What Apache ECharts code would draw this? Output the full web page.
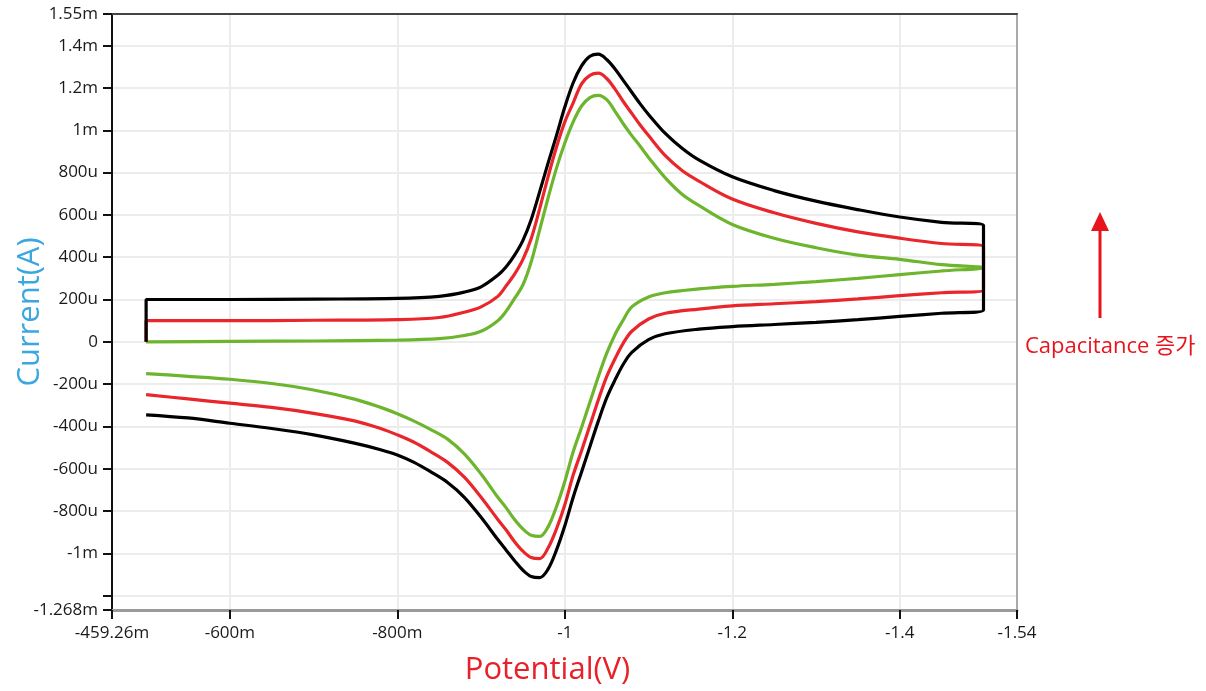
<!DOCTYPE html>
<html><head><meta charset="utf-8">
<script src="https://cdn.jsdelivr.net/npm/echarts@6/dist/echarts.min.js"></script>
<style>html,body{margin:0;padding:0;background:#fff}#chart{width:1206px;height:691px}</style>
</head><body><div id="chart"></div>
<script>
// Potential (V) grids for forward (toward -1.5 V) and reverse scans
const forwardPotential = [-0.50, -0.50, -0.60, -0.70, -0.80, -0.85, -0.88, -0.90, -0.92, -0.93, -0.94, -0.95, -0.96, -0.97, -0.98, -0.99, -1.00, -1.01, -1.02, -1.03, -1.04, -1.05, -1.06, -1.07, -1.08, -1.09, -1.10, -1.12, -1.14, -1.16, -1.20, -1.25, -1.30, -1.35, -1.40, -1.45, -1.50];
const reversePotential = [-1.50, -1.45, -1.40, -1.35, -1.30, -1.25, -1.20, -1.16, -1.12, -1.10, -1.08, -1.07, -1.06, -1.05, -1.04, -1.03, -1.02, -1.01, -1.00, -0.99, -0.98, -0.97, -0.96, -0.95, -0.94, -0.93, -0.92, -0.90, -0.88, -0.86, -0.84, -0.82, -0.80, -0.78, -0.75, -0.70, -0.65, -0.60, -0.55, -0.50];

// Current (mA)
const greenForward = [0, 0, 0.002, 0.004, 0.008, 0.015, 0.03, 0.05, 0.10, 0.145, 0.205, 0.27, 0.38, 0.53, 0.68, 0.82, 0.94, 1.04, 1.115, 1.155, 1.165, 1.145, 1.09, 1.03, 0.975, 0.925, 0.872, 0.775, 0.698, 0.645, 0.555, 0.49, 0.445, 0.41, 0.39, 0.365, 0.35];
const greenReverse = [0.35, 0.335, 0.318, 0.30, 0.285, 0.272, 0.262, 0.25, 0.232, 0.212, 0.165, 0.105, 0.035, -0.055, -0.165, -0.285, -0.405, -0.52, -0.66, -0.78, -0.875, -0.92, -0.915, -0.885, -0.84, -0.785, -0.735, -0.625, -0.53, -0.46, -0.415, -0.375, -0.34, -0.31, -0.272, -0.228, -0.197, -0.177, -0.163, -0.15];

const redForward = [0, 0.10, 0.10, 0.102, 0.105, 0.115, 0.14, 0.165, 0.215, 0.265, 0.32, 0.39, 0.49, 0.63, 0.78, 0.92, 1.04, 1.13, 1.22, 1.26, 1.27, 1.245, 1.195, 1.135, 1.08, 1.025, 0.975, 0.88, 0.81, 0.76, 0.675, 0.61, 0.56, 0.52, 0.49, 0.465, 0.45];
const redReverse = [0.245, 0.232, 0.218, 0.203, 0.19, 0.18, 0.17, 0.155, 0.135, 0.108, 0.05, -0.005, -0.08, -0.165, -0.275, -0.395, -0.515, -0.63, -0.77, -0.885, -0.975, -1.025, -1.02, -0.99, -0.945, -0.89, -0.84, -0.735, -0.64, -0.57, -0.52, -0.475, -0.44, -0.41, -0.375, -0.338, -0.31, -0.29, -0.27, -0.25];

const blackForward = [0, 0.20, 0.20, 0.202, 0.205, 0.215, 0.235, 0.26, 0.315, 0.355, 0.41, 0.48, 0.58, 0.71, 0.845, 0.975, 1.11, 1.225, 1.305, 1.35, 1.36, 1.335, 1.29, 1.235, 1.18, 1.125, 1.075, 0.985, 0.915, 0.86, 0.78, 0.715, 0.665, 0.625, 0.59, 0.565, 0.55];
const blackReverse = [0.15, 0.135, 0.12, 0.105, 0.092, 0.082, 0.072, 0.06, 0.038, 0.01, -0.05, -0.105, -0.18, -0.265, -0.375, -0.495, -0.615, -0.735, -0.87, -0.985, -1.075, -1.115, -1.11, -1.08, -1.035, -0.985, -0.935, -0.83, -0.735, -0.665, -0.615, -0.57, -0.535, -0.51, -0.48, -0.44, -0.41, -0.385, -0.36, -0.345];

// Axis ticks
const xTickValues = [-0.45926, -0.6, -0.8, -1.0, -1.2, -1.4, -1.54];
const yTickValues = [-1.268, -1.2, -1.0, -0.8, -0.6, -0.4, -0.2, 0, 0.2, 0.4, 0.6, 0.8, 1.0, 1.2, 1.4, 1.55];
const yLabelValues = [-1.268, -1.0, -0.8, -0.6, -0.4, -0.2, 0, 0.2, 0.4, 0.6, 0.8, 1.0, 1.2, 1.4, 1.55];

function loop(fE, fI, rE, rI) {
  const out = [];
  fE.forEach((e, i) => out.push([e, fI[i]]));
  rE.forEach((e, i) => out.push([e, rI[i]]));
  return out;
}
function fmtX(v) {
  if (Math.abs(v) < 1) return parseFloat((v * 1000).toFixed(2)) + 'm';
  return String(parseFloat(v.toFixed(3)));
}
function fmtY(v) {
  if (Math.abs(v) < 1e-9) return '0';
  if (Math.abs(v) >= 1) return parseFloat(v.toFixed(3)) + 'm';
  return Math.round(v * 1000) + 'u';
}

const FONT = '"Open Sans", "Noto Sans CJK KR", sans-serif';
const chart = echarts.init(document.getElementById('chart'), null, {renderer: 'canvas'});
const lineSeries = (name, color, data) => ({
  name, type: 'line', data, showSymbol: false, smooth: 0.35,
  lineStyle: {color, width: 3.2}, itemStyle: {color}, animation: false
});

chart.setOption({
  animation: false,
  backgroundColor: '#fff',
  grid: {left: 112, right: 189, top: 14, bottom: 81, outerBoundsMode: 'none', containLabel: false},
  xAxis: [{
    type: 'value', inverse: true, min: -1.54, max: -0.45926,
    name: 'Potential(V)', nameLocation: 'middle', nameGap: 45, nameMoveOverlap: false,
    nameTextStyle: {color: '#e8202a', fontSize: 31, fontFamily: FONT, padding: [0, 34, 0, 0]},
    axisLine: {show: true, onZero: false, lineStyle: {color: '#9a9a9a', width: 3}},
    axisTick: {show: true, length: 9, customValues: xTickValues, lineStyle: {color: '#111', width: 2}},
    axisLabel: {customValues: xTickValues, formatter: fmtX, color: '#1a1a1a', fontSize: 17, fontFamily: FONT, margin: 15},
    splitLine: {show: true, lineStyle: {color: '#ececec', width: 2}}
  }, {
    type: 'value', position: 'top', inverse: true, min: -1.54, max: -0.45926,
    axisLine: {show: true, onZero: false, lineStyle: {color: '#444', width: 2}},
    axisTick: {show: false}, axisLabel: {show: false}, splitLine: {show: false}
  }],
  yAxis: [{
    type: 'value', min: -1.268, max: 1.55,
    name: 'Current(A)', nameLocation: 'middle', nameGap: 66, nameRotate: 90, nameMoveOverlap: false,
    nameTextStyle: {color: '#3ba7e0', fontSize: 31, fontFamily: FONT},
    axisLine: {show: true, onZero: false, lineStyle: {color: '#111', width: 2}},
    axisTick: {show: true, length: 9, customValues: yTickValues, lineStyle: {color: '#111', width: 2}},
    axisLabel: {customValues: yLabelValues, formatter: fmtY, color: '#1a1a1a', fontSize: 17, fontFamily: FONT, margin: 14},
    splitLine: {show: true, lineStyle: {color: '#ececec', width: 2}}
  }, {
    type: 'value', position: 'right', min: -1.268, max: 1.55,
    axisLine: {show: true, onZero: false, lineStyle: {color: '#aaaaaa', width: 2}},
    axisTick: {show: false}, axisLabel: {show: false}, splitLine: {show: false}
  }],
  series: [
    lineSeries('green', '#6cb52d', loop(forwardPotential, greenForward, reversePotential, greenReverse)),
    lineSeries('red', '#e8262b', loop(forwardPotential, redForward, reversePotential, redReverse)),
    lineSeries('black', '#000000', loop(forwardPotential, blackForward, reversePotential, blackReverse))
  ],
  graphic: [
    {type: 'line', shape: {x1: 1100, y1: 318, x2: 1100, y2: 228}, style: {stroke: '#e8141c', lineWidth: 3}},
    {type: 'polygon', shape: {points: [[1100, 212], [1091, 231], [1109, 231]]}, style: {fill: '#e8141c'}},
    {type: 'text', left: 1025, top: 336, style: {text: 'Capacitance 증가', fill: '#e8141c', font: '22px ' + FONT}}
  ]
});
</script></body></html>
